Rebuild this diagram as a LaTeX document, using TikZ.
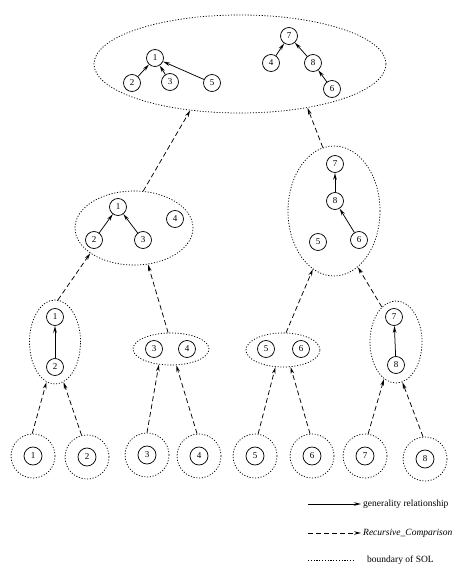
\documentclass[tikz,border=0pt]{standalone}
\usepackage{fontspec}
\setmainfont{Liberation Serif}
\usetikzlibrary{shapes.geometric, arrows.meta}
\tikzstyle{elem} = [circle, draw=black, line width=0.75pt, minimum size=17pt, inner sep=0pt, font=\fontsize{9}{9}\selectfont]
\tikzstyle{sol} = [ellipse, draw=black, line width=0.75pt, dash pattern=on 1.1pt off 1.7pt, inner sep=0pt]
\tikzstyle{gen} = [line width=0.75pt, -{Stealth[open, length=7pt, width=3.6pt]}]
\tikzstyle{rc} = [gen, dash pattern=on 5pt off 3pt]
\tikzstyle{legend} = [anchor=west, inner sep=0pt, font=\fontsize{9.5}{9.5}\selectfont]

\begin{document}
\begin{tikzpicture}[x=1pt, y=1pt]
\useasboundingbox (0,0) rectangle (468,-577);

%% NODES

% top SOL
\node (sol_top) [sol, minimum width=292pt, minimum height=98pt] at (240,-64) {};
\node (top_1) [elem] at (155,-58) {1};
\node (top_2) [elem] at (132,-83) {2};
\node (top_3) [elem] at (170,-82) {3};
\node (top_5) [elem] at (212,-83) {5};
\node (top_7) [elem] at (289,-36) {7};
\node (top_4) [elem] at (271,-63) {4};
\node (top_8) [elem] at (313,-63) {8};
\node (top_6) [elem] at (332,-89) {6};

% middle SOLs
\node (sol_1234) [sol, minimum width=118pt, minimum height=74pt] at (134,-228) {};
\node (mid_1) [elem] at (118,-207) {1};
\node (mid_2) [elem] at (94,-240) {2};
\node (mid_3) [elem] at (143,-240) {3};
\node (mid_4) [elem] at (175,-219) {4};
\node (sol_5678) [sol, minimum width=92pt, minimum height=130pt] at (334,-211) {};
\node (mid_7) [elem] at (335,-164) {7};
\node (mid_8) [elem] at (335,-201) {8};
\node (mid_5) [elem] at (318,-242) {5};
\node (mid_6) [elem] at (359,-240) {6};

% pair SOLs
\node (sol_12) [sol, minimum width=51pt, minimum height=84pt] at (55,-342) {};
\node (low_1) [elem] at (55,-317) {1};
\node (low_2) [elem] at (55,-367) {2};
\node (sol_34) [sol, minimum width=76pt, minimum height=32pt] at (171,-349) {};
\node (low_3) [elem] at (154,-349) {3};
\node (low_4) [elem] at (187,-349) {4};
\node (sol_56) [sol, minimum width=74pt, minimum height=34pt] at (283,-350) {};
\node (low_5) [elem] at (266,-349) {5};
\node (low_6) [elem] at (301,-349) {6};
\node (sol_78) [sol, minimum width=52pt, minimum height=82pt] at (396,-342) {};
\node (low_7) [elem] at (394,-317) {7};
\node (low_8) [elem] at (396,-365) {8};

% single SOLs
\foreach \n/\x/\y in {1/33/456, 2/87/457, 3/147/455, 4/199/456, 5/255/456, 6/312/456, 7/365/456, 8/425/459}
{
  \node (sol_\n) [sol, minimum width=44pt, minimum height=44pt] at (\x,-\y) {};
  \node (base_\n) [elem, minimum size=18pt] at (\x,-\y) {\n};
}

% legend
\coordinate (gen_a) at (308,-504);
\coordinate (gen_b) at (361,-504);
\coordinate (rc_a) at (308,-533);
\coordinate (rc_b) at (361,-533);
\coordinate (sol_a) at (308,-560);
\coordinate (sol_b) at (353,-560);
\node (gen_label) [legend] at (363,-504) {generality relationship};
\node (rc_label) [legend] at (363,-533) {\itshape Recursive\_Comparison};
\node (sol_label) [legend] at (367,-560) {boundary of SOL};

%% ARROWS

\draw [gen] (top_2) -- (top_1);
\draw [gen] (top_3) -- (top_1);
\draw [gen] (top_5) -- (top_1);
\draw [gen] (top_4) -- (top_7);
\draw [gen] (top_8) -- (top_7);
\draw [gen] (top_6) -- (top_8);
\draw [gen] (mid_2) -- (mid_1);
\draw [gen] (mid_3) -- (mid_1);
\draw [gen] (mid_8) -- (mid_7);
\draw [gen] (mid_6) -- (mid_8);
\draw [gen] (low_2) -- (low_1);
\draw [gen] (low_8) -- (low_7);

\draw [rc] (sol_1234.76) -- (sol_top.-137);
\draw [rc] (sol_5678.100) -- (sol_top.-33);
\draw [rc] (sol_12.86) -- (sol_1234.-150);
\draw [rc] (sol_34.100) -- (sol_1234.-69);
\draw [rc] (sol_56.80) -- (sol_5678.-110);
\draw [rc] (sol_78.112) -- (sol_5678.-67);
\draw [rc] (sol_1.92) -- (sol_12.-102);
\draw [rc] (sol_2.104) -- (sol_12.-78);
\draw [rc] (sol_3.90) -- (sol_34.-128);
\draw [rc] (sol_4.95) -- (sol_34.-72);
\draw [rc] (sol_5.82) -- (sol_56.-114);
\draw [rc] (sol_6.95) -- (sol_56.-66);
\draw [rc] (sol_7.82) -- (sol_78.-108);
\draw [rc] (sol_8.95) -- (sol_78.-81);

\draw [gen] (gen_a) -- (gen_b);
\draw [rc] (rc_a) -- (rc_b);
\draw [sol] (sol_a) -- (sol_b);

\end{tikzpicture}
\end{document}
